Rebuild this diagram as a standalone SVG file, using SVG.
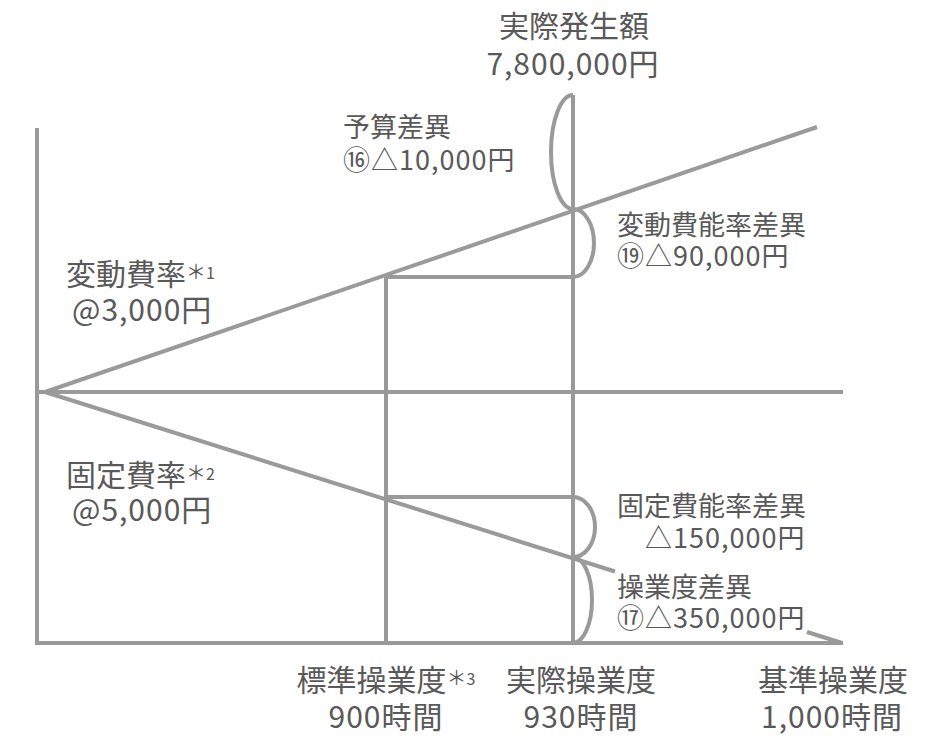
<svg xmlns="http://www.w3.org/2000/svg" width="941" height="751" viewBox="0 0 941 751">
<style>
.ln{stroke:#9a9a9a;stroke-width:4;fill:none;stroke-linecap:butt}
.t{font-family:"Noto Sans CJK JP","Noto Sans",sans-serif;fill:#595959}
.L{font-size:30px}
.M{font-size:27px}
.ast{font-size:20px}
.sn{font-size:16px}
.c{text-anchor:middle}
.n{letter-spacing:1px}
</style>
<rect width="941" height="751" fill="#ffffff"/>
<g id="connectors">
<line class="ln" x1="37" y1="128" x2="37" y2="645"/>
<line class="ln" x1="35" y1="643" x2="843" y2="643"/>
<line class="ln" x1="37" y1="392" x2="843" y2="392"/>
<line class="ln" x1="45" y1="392" x2="817" y2="127"/>
<line class="ln" x1="45" y1="392" x2="615" y2="571.5"/>
<line class="ln" x1="807" y1="632" x2="842" y2="643"/>
<line class="ln" x1="386" y1="275" x2="386" y2="643"/>
<line class="ln" x1="573" y1="95" x2="573" y2="643"/>
<line class="ln" x1="386" y1="277" x2="573" y2="277"/>
<line class="ln" x1="386" y1="497" x2="573" y2="497"/>
<path class="ln" d="M573,95 A22,57 0 0,0 573,209"/>
<path class="ln" d="M573,209 A21,34 0 0,1 573,277"/>
<path class="ln" d="M573,497 A22,30 0 0,1 573,557"/>
<path class="ln" d="M573,557 A19,43 0 0,1 573,643"/>
</g>
<g id="actual-cost">
<text class="t L c" x="574" y="37">実際発生額</text>
<text class="t L c n" x="573" y="75">7,800,000円</text>
</g>
<g id="budget-variance">
<text class="t M" x="343" y="137">予算差異</text>
<text class="t M n" x="343" y="170">⑯△10,000円</text>
</g>
<g id="variable-efficiency-variance">
<text class="t M" x="617" y="235">変動費能率差異</text>
<text class="t M n" x="617" y="266">⑲△90,000円</text>
</g>
<g id="variable-rate">
<text class="t L" x="66" y="285">変動費率<tspan class="ast" dy="-6">＊</tspan><tspan class="sn">1</tspan></text>
<text class="t L n" x="72" y="321">@3,000円</text>
</g>
<g id="fixed-rate">
<text class="t L" x="66" y="486">固定費率<tspan class="ast" dy="-6">＊</tspan><tspan class="sn">2</tspan></text>
<text class="t L n" x="72" y="521">@5,000円</text>
</g>
<g id="fixed-efficiency-variance">
<text class="t M" x="617" y="516">固定費能率差異</text>
<text class="t M n" x="645" y="548">△150,000円</text>
</g>
<g id="volume-variance">
<text class="t M" x="617" y="597">操業度差異</text>
<text class="t M n" x="617" y="628">⑰△350,000円</text>
</g>
<g id="standard-hours">
<text class="t L c" x="386" y="691">標準操業度<tspan class="ast" dy="-6">＊</tspan><tspan class="sn">3</tspan></text>
<text class="t L c n" x="386" y="728">900時間</text>
</g>
<g id="actual-hours">
<text class="t L c" x="581" y="691">実際操業度</text>
<text class="t L c n" x="581" y="728">930時間</text>
</g>
<g id="base-hours">
<text class="t L c" x="833" y="691">基準操業度</text>
<text class="t L c n" x="832" y="728">1,000時間</text>
</g>
</svg>
